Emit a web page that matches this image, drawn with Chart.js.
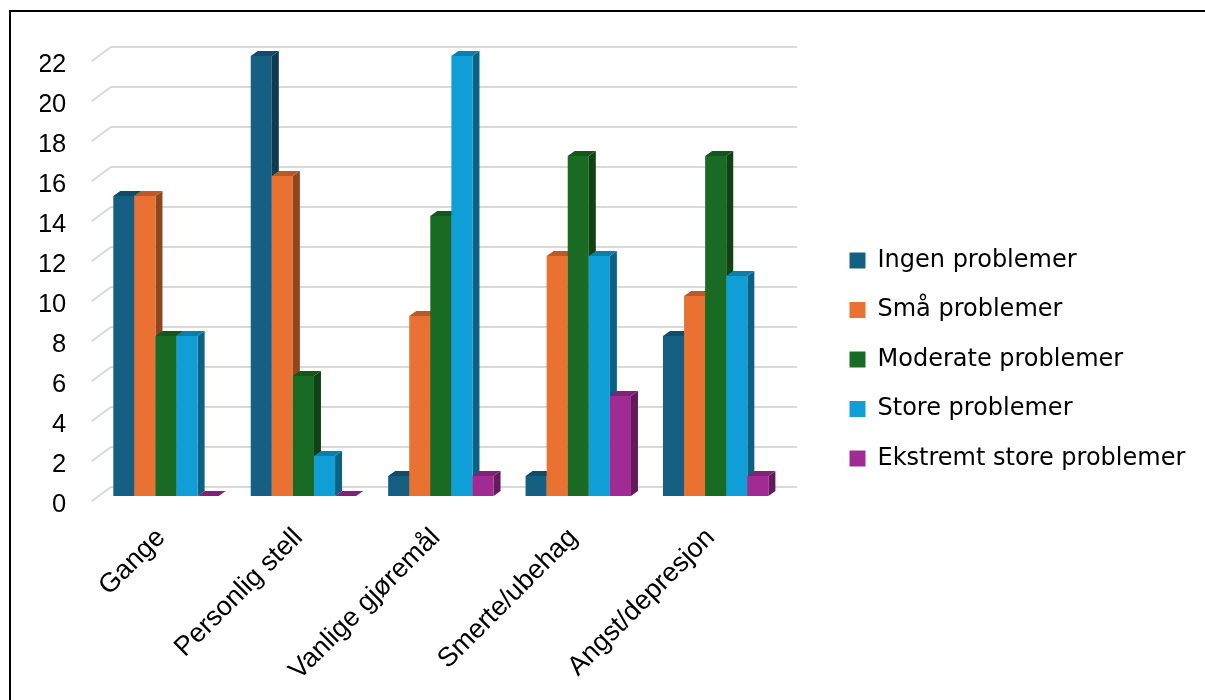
<!DOCTYPE html>
<html>
<head>
<meta charset="utf-8">
<title>Helseproblemer</title>
<script src="https://cdn.jsdelivr.net/npm/chart.js@4.4.1/dist/chart.umd.min.js"></script>
<style>
  html, body { margin: 0; padding: 0; background: #fff; overflow: hidden; }
  #wrap { position: relative; width: 1205px; height: 700px; }
  #frame {
    position: absolute; left: 9px; top: 10px; width: 1400px; height: 900px;
    border: 2px solid #000; box-sizing: border-box; pointer-events: none;
  }
</style>
</head>
<body>
<div id="wrap">
  <canvas id="chart" width="1205" height="700"></canvas>
  <div id="frame"></div>
</div>
<script>
// Categories and answer counts per problem level
const categories = ['Gange', 'Personlig stell', 'Vanlige gjøremål', 'Smerte/ubehag', 'Angst/depresjon'];
const seriesNames = ['Ingen problemer', 'Små problemer', 'Moderate problemer', 'Store problemer', 'Ekstremt store problemer'];
const ingenProblemer    = [15, 22, 1, 1, 8];
const smaaProblemer     = [15, 16, 9, 12, 10];
const moderateProblemer = [8, 6, 14, 17, 17];
const storeProblemer    = [8, 2, 22, 12, 11];
const ekstremtStore     = [0, 0, 1, 5, 1];
const yMax = 22;
const yStep = 2;

const seriesColors = ['#156082', '#E97132', '#196B24', '#0F9ED5', '#A02B93'];
const seriesValues = [ingenProblemer, smaaProblemer, moderateProblemer, storeProblemer, ekstremtStore];

// depth of each bar prism and of the floor/wall box (pixels)
const BAR_DEPTH = { dx: 7, dy: -5 };
const WALL_BACK = { dx: 13.7, dy: -9 };
const WALL_FRONT = { dx: -5.8, dy: 5.3 };

// legend geometry
const LEGEND_FONT = { family: 'DejaVu Sans', size: 24 };
const LEGEND_BOX = 16;
const LEGEND_PAD = 25.5;
const LEGEND_LEFT = 824;
const CANVAS_W = 1205;

// width the legend needs for its longest entry
const measureCtx = document.createElement('canvas').getContext('2d');
measureCtx.font = `${LEGEND_FONT.size}px "${LEGEND_FONT.family}"`;
const longestLabel = Math.max(...seriesNames.map(s => measureCtx.measureText(s).width));
const legendWidth = Math.ceil(LEGEND_PAD + LEGEND_BOX + LEGEND_FONT.size / 2 + longestLabel + 10) - 2;

function shade(hex, f) {
  const n = parseInt(hex.slice(1), 16);
  const r = Math.round(((n >> 16) & 255) * f);
  const g = Math.round(((n >> 8) & 255) * f);
  const b = Math.round((n & 255) * f);
  return `rgb(${r},${g},${b})`;
}

// Draws the gridline walls, then every bar as a small prism, left to right
const prismBars = {
  id: 'prismBars',
  beforeDatasetsDraw(chart) {
    const { ctx, chartArea: a } = chart;
    const yScale = chart.scales.y;
    ctx.save();

    ctx.strokeStyle = '#d9d9d9';
    ctx.lineWidth = 2;
    yScale.ticks.forEach(t => {
      const py = yScale.getPixelForValue(t.value);
      ctx.beginPath();
      ctx.moveTo(a.left + WALL_FRONT.dx, py + WALL_FRONT.dy);
      ctx.lineTo(a.left + WALL_BACK.dx, py + WALL_BACK.dy);
      ctx.lineTo(a.right + WALL_BACK.dx - 1, py + WALL_BACK.dy);
      ctx.stroke();
    });

    const metas = chart.data.datasets.map((_, i) => chart.getDatasetMeta(i));
    for (let j = 0; j < categories.length; j++) {
      metas.forEach((meta, i) => {
        const el = meta.data[j];
        if (!el) return;
        const { x, y, base, width } = el.getProps(['x', 'y', 'base', 'width'], true);
        const l = x - width / 2, r = x + width / 2;
        const top = Math.min(y, base), bot = Math.max(y, base);
        const c = seriesColors[i];
        const { dx, dy } = BAR_DEPTH;

        // right side face
        ctx.fillStyle = shade(c, 0.62);
        ctx.beginPath();
        ctx.moveTo(r, top); ctx.lineTo(r + dx, top + dy);
        ctx.lineTo(r + dx, bot + dy); ctx.lineTo(r, bot);
        ctx.closePath(); ctx.fill();

        // top face
        ctx.fillStyle = shade(c, 0.8);
        ctx.beginPath();
        ctx.moveTo(l, top); ctx.lineTo(l + dx, top + dy);
        ctx.lineTo(r + dx, top + dy); ctx.lineTo(r, top);
        ctx.closePath(); ctx.fill();

        // front face
        ctx.fillStyle = c;
        ctx.fillRect(l, top, r - l, bot - top);
      });
    }
    ctx.restore();
    return false;
  }
};

const datasets = seriesNames.map((name, i) => ({
  label: name,
  data: seriesValues[i],
  backgroundColor: seriesColors[i],
  borderWidth: 0
}));

new Chart(document.getElementById('chart'), {
  type: 'bar',
  data: { labels: categories, datasets },
  options: {
    responsive: false,
    animation: false,
    events: [],
    categoryPercentage: 0.767,
    barPercentage: 1,
    layout: { padding: { left: 40, top: 56, right: CANVAS_W - LEGEND_LEFT - legendWidth, bottom: 0 } },
    plugins: {
      tooltip: { enabled: false },
      legend: {
        position: 'right',
        align: 'end',
        fullSize: false,
        maxWidth: legendWidth,
        labels: {
          font: LEGEND_FONT,
          color: '#000',
          boxWidth: LEGEND_BOX,
          boxHeight: LEGEND_BOX,
          padding: LEGEND_PAD
        }
      }
    },
    scales: {
      x: {
        grid: { display: false, drawTicks: false },
        border: { display: false },
        ticks: {
          autoSkip: false,
          minRotation: 45,
          maxRotation: 45,
          padding: 26,
          labelOffset: -5,
          color: '#000',
          font: { family: 'Liberation Sans', size: 27 }
        },
        afterFit(scale) { scale.height = 204; }
      },
      y: {
        min: 0,
        max: yMax,
        grid: { display: false, drawTicks: false },
        border: { display: false },
        ticks: {
          stepSize: yStep,
          padding: 31,
          labelOffset: 8.5,
          color: '#000',
          font: { family: 'Liberation Sans', size: 25.5 }
        },
        afterFit(scale) { scale.width = 57.3; }
      },
      legendGap: {
        type: 'linear',
        position: 'right',
        display: true,
        grid: { display: false, drawTicks: false },
        border: { display: false },
        ticks: { display: false },
        afterFit(scale) { scale.width = 39.6; }
      }
    }
  },
  plugins: [prismBars]
});
</script>
</body>
</html>
